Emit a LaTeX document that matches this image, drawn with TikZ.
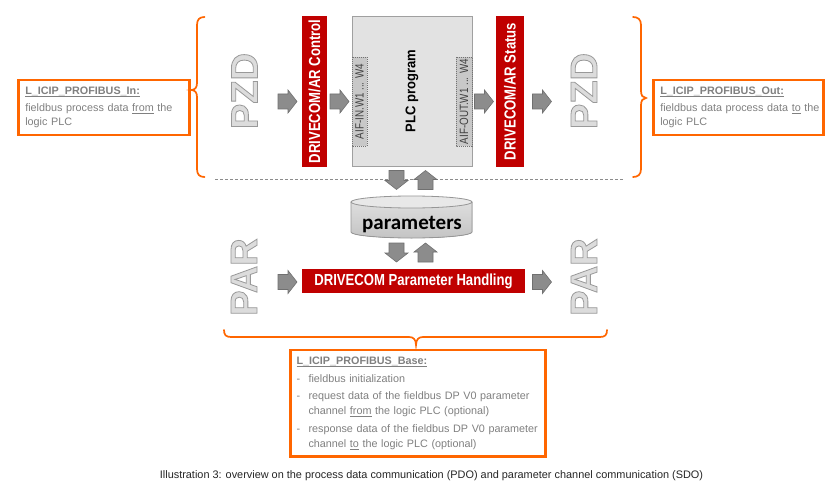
\documentclass[tikz,border=0pt]{standalone}
\usepackage{fontspec}
\setmainfont{Liberation Sans}
\newfontfamily\calibfont{Carlito}
\usepackage{graphicx}
\definecolor{org}{RGB}{255,102,0}
\definecolor{dred}{RGB}{192,0,0}
\definecolor{txtgray}{RGB}{128,128,128}
\definecolor{arrfill}{RGB}{140,140,140}
\definecolor{arrdraw}{RGB}{112,112,112}
\definecolor{ltr}{RGB}{220,220,220}
\definecolor{plcfill}{RGB}{226,226,226}
\definecolor{plcdraw}{RGB}{160,160,160}
\definecolor{aiffill}{RGB}{200,200,200}
\definecolor{cyltop}{RGB}{232,232,232}
\definecolor{cylupper}{RGB}{222,222,222}
\definecolor{cyllower}{RGB}{196,196,196}
\definecolor{cyldraw}{RGB}{150,150,150}
\newcommand\myul[1]{\setbox0\hbox{#1}\rlap{\rule[-1.8pt]{\wd0}{0.7pt}}\box0\relax}
\newcommand\narrowtxt[1]{\scalebox{0.82}[1]{#1}}
\newcommand\outltxt[1]{\special{pdf:literal direct 2 Tr 0.8 w 0.6 0.6 0.6 RG}#1\special{pdf:literal direct 0 Tr}}
\tikzset{
  barrow/.pic={\filldraw[fill=arrfill,draw=arrdraw,line width=0.6pt,line join=miter]
     (-9.5,-7.5) -- (0.5,-7.5) -- (0.5,-11.5) -- (9.5,0) -- (0.5,11.5) -- (0.5,7.5) -- (-9.5,7.5) -- cycle;},
  bigltr/.style={rotate=90, inner sep=0pt, text=ltr, font=\bfseries\fontsize{38}{38}\selectfont},
  redbox/.style={fill=dred, text=white, inner sep=0pt, font=\bfseries\fontsize{16}{16}\selectfont},
  aifbox/.style={draw=black!55, dash pattern=on 1pt off 1pt, fill=aiffill, rotate=90, minimum width=89pt,
     minimum height=15pt, inner sep=0pt, text=black!75, font=\fontsize{12}{12}\selectfont},
  infobox/.style={draw=org, line width=2.8pt, inner xsep=6.8pt, inner ysep=0pt, align=left, text=txtgray,
     font=\fontsize{10.8}{14}\selectfont},
  bracestyle/.style={draw=org, line width=1.7pt, line cap=round},
}
\begin{document}
\begin{tikzpicture}[x=1pt,y=-1pt]
\fill[white] (0,0) rectangle (837,492);
\useasboundingbox (0,0) rectangle (837,492);

% braces
\draw[bracestyle] (204.5,17) .. controls (199.5,17) and (197,19.5) .. (197,25) -- (197,83)
   .. controls (197,87.5) and (195,90) .. (191,90) .. controls (195,90) and (197,92.5) .. (197,97)
   -- (197,169) .. controls (197,174.5) and (199.5,177) .. (204.5,177);
\draw[bracestyle] (633,17) .. controls (638,17) and (641,19.5) .. (641,25) -- (641,91)
   .. controls (641,95.5) and (643,98) .. (646,98) .. controls (643,98) and (641,100.5) .. (641,105)
   -- (641,169) .. controls (641,174.5) and (638,177) .. (633,177);
\draw[bracestyle] (224,330) .. controls (224,335) and (226,337) .. (231,337) -- (409,337)
   .. controls (413,337) and (416,339) .. (416,345) .. controls (416,339) and (419,337) .. (423,337)
   -- (600,337) .. controls (605,337) and (607,335) .. (607,330);

% separator
\coordinate (sepL) at (215,179.5);
\coordinate (sepR) at (623,179.5);
\draw[black!45, line width=0.8pt, dash pattern=on 3pt off 2pt] (sepL) -- (sepR);

% big letters
\node[bigltr] (pzdL) at (244.5,91) {\outltxt{PZD}};
\node[bigltr] (pzdR) at (584,91) {\outltxt{PZD}};
\node[bigltr] (parL) at (244,277) {\outltxt{PAR}};
\node[bigltr] (parR) at (584,277) {\outltxt{PAR}};

% red boxes
\node[redbox, rotate=90, minimum width=151pt, minimum height=25pt] (ctrl) at (314.5,91.5) {\narrowtxt{DRIVECOM/AR Control}};
\node[redbox, rotate=90, minimum width=151pt, minimum height=28pt] (stat) at (510,91.5) {\narrowtxt{DRIVECOM/AR Status}};
\node[redbox, minimum width=223pt, minimum height=24pt] (handling) at (413.5,281) {\narrowtxt{DRIVECOM Parameter Handling}};

% PLC
\node[draw=plcdraw, fill=plcfill, line width=0.8pt, rotate=90, minimum width=150pt, minimum height=120pt, inner sep=0pt,
      font=\bfseries\fontsize{14}{14}\selectfont] (plc) at (412,91) {\scalebox{0.93}[1]{PLC program}};
\node[aifbox] (aifin) at (359.5,101.5) {\narrowtxt{AIF-IN.W1 ... W4}};
\node[aifbox, minimum height=16pt] (aifout) at (464,101.5) {\narrowtxt{AIF-OUT.W1 ... W4}};

% cylinder
\fill[top color=cylupper, bottom color=cyllower] (351,202) -- (351,232)
   arc[start angle=180, end angle=0, x radius=60.5, y radius=6] -- (472,202) -- cycle;
\draw[cyldraw, line width=0.8pt] (351,202) -- (351,232)
   arc[start angle=180, end angle=0, x radius=60.5, y radius=6] -- (472,202);
\filldraw[fill=cyltop, draw=cyldraw, line width=0.8pt] (411.5,202) ellipse[x radius=60.5, y radius=6];
\node[font=\calibfont\bfseries\fontsize{21}{21}\selectfont, anchor=base, inner sep=0pt] (params) at (412,229) {parameters};

% block arrows
\pic at (287.5,101.5) {barrow};
\pic at (339.5,101.5) {barrow};
\pic at (484,101.5) {barrow};
\pic at (542,101.5) {barrow};
\pic at (287.5,282) {barrow};
\pic at (542,282) {barrow};
\pic[rotate=-90] at (396.5,180) {barrow};
\pic[rotate=90] at (425.5,180) {barrow};
\pic[rotate=-90] at (396.5,252.5) {barrow};
\pic[rotate=90] at (425.5,252.5) {barrow};

% info boxes
\node[infobox, text width=157.4pt, minimum height=55pt] (inbox) at (104,107.5)
  {\textbf{\myul{L\_ICIP\_PROFIBUS\_In:}}\\[3pt]\mbox{fieldbus process data \myul{from} the}\\logic PLC};
\node[infobox, text width=156.4pt, minimum height=55pt] (outbox) at (738.5,107.5)
  {\textbf{\myul{L\_ICIP\_PROFIBUS\_Out:}}\\[3pt]\mbox{fieldbus data process data \myul{to} the}\\logic PLC};
\node[infobox, inner xsep=6pt, text width=243pt, minimum height=106.7pt, font=\fontsize{10.8}{15}\selectfont] (basebox) at (418,403.25)
  {\textbf{\myul{L\_ICIP\_PROFIBUS\_Base:}}\\[3pt]
   \makebox[12pt][l]{-}fieldbus initialization\\[2pt]
   \makebox[12pt][l]{-}\mbox{request data of the fieldbus DP V0 parameter}\\
   \hspace*{12pt}channel \myul{from} the logic PLC (optional)\\[3pt]
   \makebox[12pt][l]{-}\mbox{response data of the fieldbus DP V0 parameter}\\
   \hspace*{12pt}channel \myul{to} the logic PLC (optional)};

% caption
\node[font=\fontsize{10.9}{12}\selectfont, text=black!85, inner sep=0pt] (caption) at (431.5,476)
  {Illustration 3: overview on the process data communication (PDO) and parameter channel communication (SDO)};
\end{tikzpicture}
\end{document}
